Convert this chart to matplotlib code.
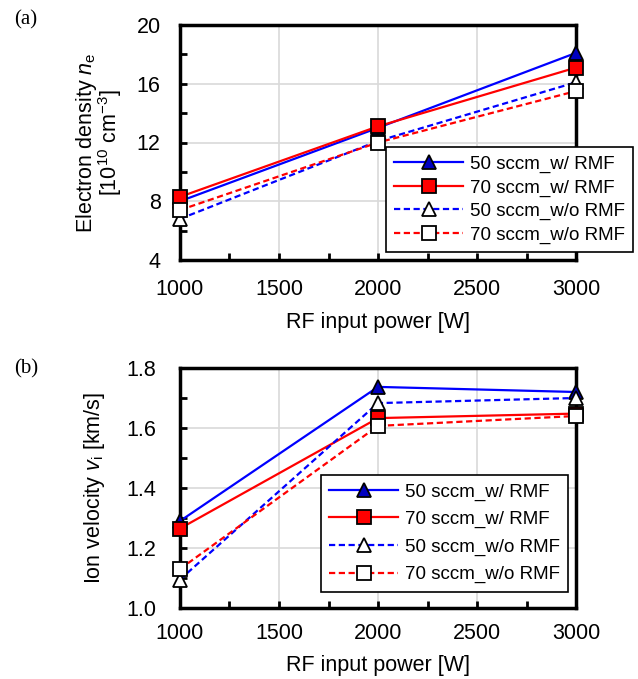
import matplotlib
matplotlib.use("Agg")
import matplotlib.pyplot as plt
from matplotlib.ticker import MultipleLocator, FormatStrFormatter

plt.rcParams['font.family'] = ['Liberation Sans', 'DejaVu Sans']
plt.rcParams['mathtext.fontset'] = 'custom'
plt.rcParams['mathtext.rm'] = 'Liberation Sans'
plt.rcParams['mathtext.it'] = 'Liberation Sans:italic'

power = [1000, 2000, 3000]
labels = ["50 sccm_w/ RMF", "70 sccm_w/ RMF", "50 sccm_w/o RMF", "70 sccm_w/o RMF"]

ne_50_w = [8.0, 13.0, 18.1]
ne_70_w = [8.3, 13.1, 17.1]
ne_50_wo = [6.8, 12.1, 16.1]
ne_70_wo = [7.4, 12.0, 15.5]

vi_50_w = [1.29, 1.737, 1.72]
vi_70_w = [1.265, 1.633, 1.648]
vi_50_wo = [1.095, 1.683, 1.70]
vi_70_wo = [1.13, 1.607, 1.64]

styles = [
    dict(color='#0000FF', ls='-', marker='^', mfc='#0000C0'),
    dict(color='#FF0000', ls='-', marker='s', mfc='#FF0000'),
    dict(color='#0000FF', ls='--', marker='^', mfc='white'),
    dict(color='#FF0000', ls='--', marker='s', mfc='white'),
]

W, H = 638, 679
fig = plt.figure(figsize=(W/100, H/100), dpi=100)

def px_axes(l, t, r, b):
    return fig.add_axes([l/W, 1-b/H, (r-l)/W, (b-t)/H])

axa = px_axes(180, 25, 576, 260)
axb = px_axes(180, 368, 576, 608)

FS = 15.5
LFS = 13.5

def draw(ax, series, ylim, ymaj, ymin, legend_anchor, lspace, xpad, ypad):
    for y, st, lab in zip(series, styles, labels):
        kw = dict(color=st['color'], lw=1.6,
                  marker=st['marker'], mfc=st['mfc'], mec='black', mew=1.3,
                  ms=10 if st['marker'] == '^' else 9.5, label=lab, clip_on=False,
                  zorder=3)
        if st['ls'] == '--':
            kw['dashes'] = (2.8, 1.6)
        ax.plot(power, y, **kw)
    ax.set_xlim(1000, 3000)
    ax.set_ylim(*ylim)
    ax.xaxis.set_major_locator(MultipleLocator(500))
    ax.xaxis.set_minor_locator(MultipleLocator(250))
    ax.yaxis.set_major_locator(MultipleLocator(ymaj))
    ax.yaxis.set_minor_locator(MultipleLocator(ymin))
    ax.grid(True, which='major', color='#d9d9d9', lw=1.2, zorder=0)
    ax.tick_params(which='both', direction='in', width=2, labelsize=FS,
                   top=False, right=False)
    ax.tick_params(which='both', length=5)
    ax.tick_params(axis='x', which='major', pad=xpad)
    ax.tick_params(axis='y', which='major', pad=ypad)
    for s in ax.spines.values():
        s.set_linewidth(2.5)
    ax.set_xlabel("RF input power [W]", fontsize=FS, labelpad=8)
    leg = ax.legend(loc='lower right', bbox_to_anchor=legend_anchor,
                    borderaxespad=0, fontsize=LFS, handlelength=3.68,
                    fancybox=False, framealpha=1, edgecolor='black',
                    labelspacing=lspace, borderpad=0.45, handletextpad=0.35)
    leg.get_frame().set_linewidth(1.2)
    leg.set_zorder(5)

draw(axa, [ne_50_w, ne_70_w, ne_50_wo, ne_70_wo], (4, 20), 4, 2,
     (1.144, 0.034), 0.33, 14, 14)
draw(axb, [vi_50_w, vi_70_w, vi_50_wo, vi_70_wo], (1.0, 1.8), 0.2, 0.1,
     (0.98, 0.067), 0.55, 11, 17)
axb.yaxis.set_major_formatter(FormatStrFormatter('%.1f'))

axa.set_ylabel("Electron density $n_\\mathrm{e}$\n[10$^{10}$ cm$^{-3}$]",
               fontsize=FS, linespacing=0.85, labelpad=9)
axb.set_ylabel("Ion velocity $v_\\mathrm{i}$ [km/s]", fontsize=FS, labelpad=14)

fig.text(14/W, 1-20/H, "(a)", fontsize=15, family='Liberation Serif', va='center')
fig.text(14/W, 1-369/H, "(b)", fontsize=15, family='Liberation Serif', va='center')

fig.savefig("out.png", dpi=100)
